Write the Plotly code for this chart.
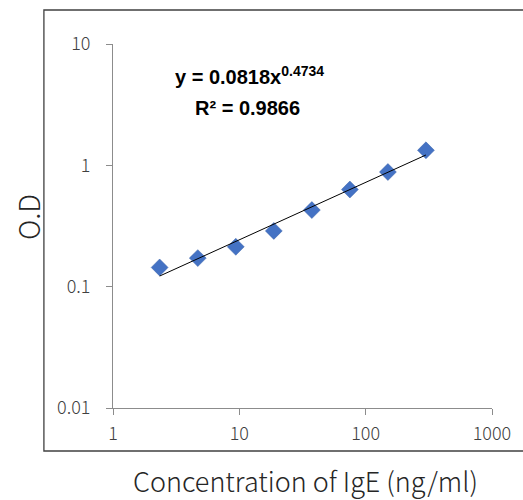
import plotly.graph_objects as go
import numpy as np

concentration = [2.34, 4.69, 9.375, 18.75, 37.5, 75, 150, 300]
od_values = [0.144, 0.172, 0.213, 0.288, 0.428, 0.632, 0.881, 1.33]
fit_coef = 0.0818
fit_exp = 0.4734
fit_r2 = 0.9866
x_tick_vals = [1, 10, 100, 1000]
x_tick_text = ["1", "10", "100", "1000"]
y_tick_vals = [0.01, 0.1, 1, 10]
y_tick_text = ["0.01", "0.1", "1", "10"]

trend_x = np.array([concentration[0], concentration[-1]])
trend_y = fit_coef * trend_x ** fit_exp

tick_font = dict(family="Noto Sans CJK JP", size=18, color="#404040", weight=300)
axis_color = "#8c8c8c"

fig = go.Figure()
fig.add_trace(go.Scatter(x=concentration, y=od_values, mode="markers",
                         marker=dict(symbol="diamond", size=13, color="#4472C4",
                                     line=dict(width=0.5, color="#3a62a8")),
                         showlegend=False))
fig.add_trace(go.Scatter(x=trend_x, y=trend_y, mode="lines",
                         line=dict(color="black", width=1), showlegend=False))

fig.update_layout(
    width=523, height=500,
    margin=dict(l=113, r=26, t=44, b=92),
    paper_bgcolor="white", plot_bgcolor="white",
    xaxis=dict(type="log", range=[0, 3], tickvals=x_tick_vals, ticktext=x_tick_text,
               showgrid=False, zeroline=False, showline=True, linecolor=axis_color,
               linewidth=1, ticks="outside", ticklen=6, tickcolor=axis_color,
               tickfont=tick_font, ticklabelstandoff=3),
    yaxis=dict(type="log", range=[-2, 1], tickvals=y_tick_vals, ticktext=y_tick_text,
               showgrid=False, zeroline=False, showline=True, linecolor=axis_color,
               linewidth=1, ticks="outside", ticklen=6, tickcolor=axis_color,
               tickfont=tick_font, ticklabelstandoff=12),
)

fig.add_shape(type="rect", xref="paper", yref="paper",
              x0=(43 - 113) / 384, x1=(540 - 113) / 384,
              y0=(408 - 451) / 364, y1=(408 - 10) / 364,
              line=dict(color="#404040", width=1.3), layer="below")

eq_font = dict(family="Liberation Sans", size=20, color="black", weight="bold")
fig.add_annotation(xref="paper", yref="paper", x=(251 - 113) / 384, y=(408 - 75) / 364,
                   text=f"y = {fit_coef}x<sup>{fit_exp}</sup>", showarrow=False,
                   font=eq_font, xanchor="center", yanchor="middle")
fig.add_annotation(xref="paper", yref="paper", x=(249 - 113) / 384, y=(408 - 108) / 364,
                   text=f"R² = {fit_r2}", showarrow=False,
                   font=eq_font, xanchor="center", yanchor="middle")

fig.add_annotation(xref="paper", yref="paper", x=(308 - 113) / 384, y=(408 - 480) / 364,
                   text="Concentration of IgE (ng/ml)", showarrow=False,
                   font=dict(family="Noto Sans CJK JP", size=27, color="#262626", weight=300),
                   xanchor="center", yanchor="middle")
fig.add_annotation(xref="paper", yref="paper", x=(27 - 113) / 384, y=(408 - 217) / 364,
                   text="O.D", showarrow=False, textangle=-90,
                   font=dict(family="Noto Sans CJK JP", size=28, color="#262626", weight=300),
                   xanchor="center", yanchor="middle")

fig.write_html("out.html", config={"displayModeBar": False},
               post_script="document.body.style.margin='0px';document.body.style.overflow='hidden';")
